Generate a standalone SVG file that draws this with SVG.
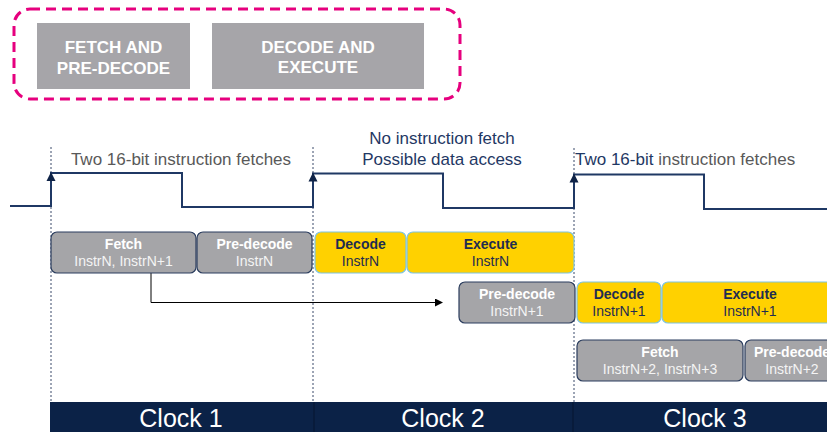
<svg xmlns="http://www.w3.org/2000/svg" width="827" height="432" viewBox="0 0 827 432">
<defs>
<style>
text{font-family:"Liberation Sans",Arial,sans-serif}
.legend{fill:#a6a5a9}
.lt{fill:#fff;font-weight:bold;font-size:17px;text-anchor:middle}
.g{fill:#a5a5a8;stroke:#2b3d5e;stroke-width:1.2}
.y{fill:#ffd100;stroke:#7fc4e0;stroke-width:1.2}
.gt{fill:#fff;font-weight:bold;font-size:14px;text-anchor:middle}
.gs{fill:#f4f4f4;font-size:14px;text-anchor:middle}
.yt{fill:#1f2d50;font-weight:bold;font-size:14px;text-anchor:middle}
.ys{fill:#1f2d50;font-size:14px;text-anchor:middle}
.lab{font-size:17px}
.grey{fill:#595959}
.navy{fill:#1f3864}
.dot{stroke:#3a4a6b;stroke-width:1;stroke-dasharray:2 2;fill:none}
.clk{fill:#fff;font-size:25px;text-anchor:middle}
</style>
<polygon id="ah" points="0,0 -4.5,9 4.5,9" fill="#0f2347"/>
<marker id="arr" markerWidth="8" markerHeight="8" refX="7" refY="4" orient="auto" markerUnits="userSpaceOnUse">
<polygon points="0,0 8,4 0,8" fill="#000"/>
</marker>
</defs>
<rect width="827" height="432" fill="#fff"/>

<g id="legend">
<rect x="14" y="9" width="446" height="90" rx="16" fill="none" stroke="#e6007e" stroke-width="3" stroke-dasharray="10 6"/>
<g id="legend-fetch">
<rect class="legend" x="37" y="23" width="153" height="66"/>
<text class="lt" x="113.5" y="53">FETCH AND</text>
<text class="lt" x="113.5" y="74">PRE-DECODE</text>
</g>
<g id="legend-decode">
<rect class="legend" x="212" y="23" width="212" height="66"/>
<text class="lt" x="318" y="52.5">DECODE AND</text>
<text class="lt" x="318" y="73">EXECUTE</text>
</g>
</g>

<g id="labels">
<text class="lab grey" x="181" y="165" text-anchor="middle">Two 16-bit instruction fetches</text>
<text class="lab navy" x="442" y="144" text-anchor="middle">No instruction fetch</text>
<text class="lab navy" x="442" y="165" text-anchor="middle">Possible data access</text>
<text class="lab" x="575" y="165"><tspan class="navy">Two 16-bit</tspan><tspan class="grey"> instruction fetches</tspan></text>
</g>

<g id="guides">
<line class="dot" x1="51" y1="147" x2="51" y2="402"/>
<line class="dot" x1="313" y1="147" x2="313" y2="402"/>
<line class="dot" x1="574" y1="148" x2="574" y2="402"/>
</g>

<g id="connectors">
<path d="M10,206 H51 V173 H182 V207 H313 V173.5 H443 V208 H574 V174.5 H704 V209 H827" fill="none" stroke="#1f3864" stroke-width="2"/>
<use href="#ah" x="51" y="172"/>
<use href="#ah" x="313" y="172.5"/>
<use href="#ah" x="574" y="173.5"/>
<path d="M151,273 V302.5 H442" fill="none" stroke="#000" stroke-width="1" marker-end="url(#arr)"/>
</g>

<g id="fetch1">
<rect class="g" x="51" y="232" width="145" height="41" rx="6"/>
<text class="gt" x="123.5" y="249">Fetch</text>
<text class="gs" x="123.5" y="266">InstrN, InstrN+1</text>
</g>
<g id="predecode1">
<rect class="g" x="197" y="232" width="115" height="41" rx="6"/>
<text class="gt" x="254.5" y="249">Pre-decode</text>
<text class="gs" x="254.5" y="266">InstrN</text>
</g>
<g id="decode1">
<rect class="y" x="315" y="232" width="91" height="41" rx="6"/>
<text class="yt" x="360.5" y="249">Decode</text>
<text class="ys" x="360.5" y="266">InstrN</text>
</g>
<g id="execute1">
<rect class="y" x="407" y="232" width="167" height="41" rx="6"/>
<text class="yt" x="490.5" y="249">Execute</text>
<text class="ys" x="490.5" y="266">InstrN</text>
</g>

<g id="predecode2">
<rect class="g" x="459" y="282" width="116" height="41" rx="6"/>
<text class="gt" x="517" y="299">Pre-decode</text>
<text class="gs" x="517" y="316">InstrN+1</text>
</g>
<g id="decode2">
<rect class="y" x="577" y="282" width="84" height="41" rx="6"/>
<text class="yt" x="619" y="299">Decode</text>
<text class="ys" x="619" y="316">InstrN+1</text>
</g>
<g id="execute2">
<rect class="y" x="662" y="282" width="176" height="41" rx="6"/>
<text class="yt" x="750" y="299">Execute</text>
<text class="ys" x="750" y="316">InstrN+1</text>
</g>

<g id="fetch3">
<rect class="g" x="577" y="340" width="166" height="41" rx="6"/>
<text class="gt" x="660" y="357">Fetch</text>
<text class="gs" x="660" y="374">InstrN+2, InstrN+3</text>
</g>
<g id="predecode3">
<rect class="g" x="745" y="340" width="94" height="41" rx="6"/>
<text class="gt" x="792" y="357">Pre-decode</text>
<text class="gs" x="792" y="374">InstrN+2</text>
</g>

<g id="clocks">
<rect x="50" y="402" width="777" height="30" fill="#0b2247"/>
<line x1="314" y1="402" x2="314" y2="432" stroke="#061530" stroke-width="1"/>
<line x1="573" y1="402" x2="573" y2="432" stroke="#061530" stroke-width="1"/>
<text class="clk" x="181" y="427">Clock 1</text>
<text class="clk" x="443" y="427">Clock 2</text>
<text class="clk" x="705" y="427">Clock 3</text>
</g>
</svg>
